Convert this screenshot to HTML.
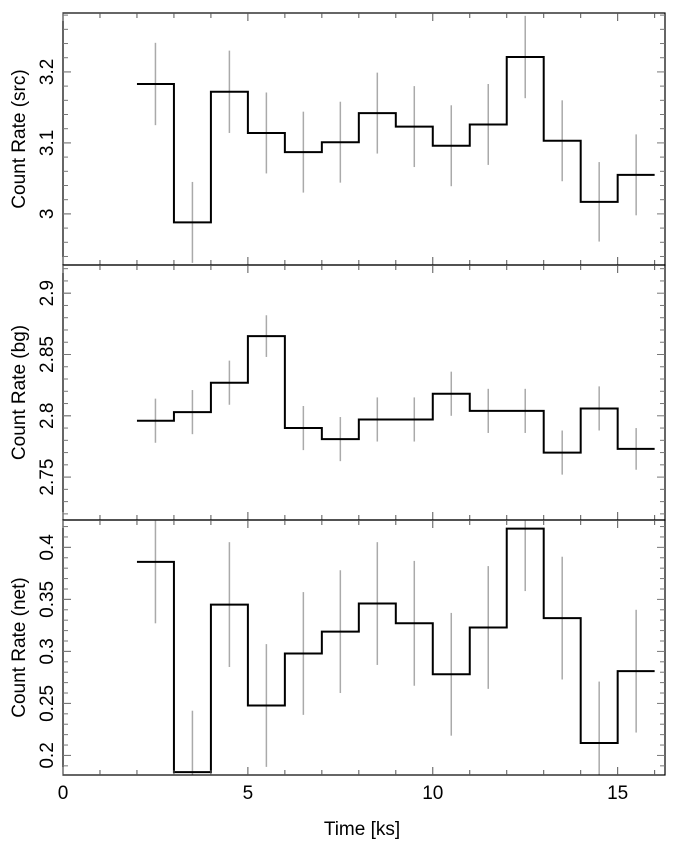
<!DOCTYPE html>
<html><head><meta charset="utf-8"><style>
html,body{margin:0;padding:0;background:#fff;width:676px;height:846px;overflow:hidden}
svg{display:block;font-family:"Liberation Sans",Arial,sans-serif}
</style></head><body>
<svg id="chart" width="676" height="846" viewBox="0 0 676 846" xmlns="http://www.w3.org/2000/svg"></svg>
<script>
const binStarts = [2,3,4,5,6,7,8,9,10,11,12,13,14,15];
const srcValues = [3.183,2.988,3.172,3.114,3.087,3.101,3.142,3.123,3.096,3.126,3.221,3.103,3.017,3.055];
const srcErrors = [0.058,0.057,0.058,0.057,0.057,0.057,0.057,0.057,0.057,0.057,0.058,0.057,0.056,0.057];
const bgValues = [2.796,2.803,2.827,2.865,2.790,2.781,2.797,2.797,2.818,2.804,2.804,2.770,2.806,2.773];
const bgErrors = [0.018,0.018,0.018,0.017,0.018,0.018,0.018,0.018,0.018,0.018,0.018,0.018,0.018,0.017];
const netValues = [0.386,0.184,0.345,0.248,0.298,0.319,0.346,0.327,0.278,0.323,0.418,0.332,0.212,0.281];
const netErrors = [0.059,0.059,0.060,0.059,0.059,0.059,0.059,0.060,0.059,0.059,0.060,0.059,0.059,0.059];
const xTickLabels = [0,5,10,15];
const srcTicks = [3,3.1,3.2];
const bgTicks = [2.75,2.8,2.85,2.9];
const netTicks = [0.2,0.25,0.3,0.35,0.4];

const NS="http://www.w3.org/2000/svg";
const svg=document.getElementById('chart');
const X0=63,X1=665,XMIN=0,XMAX=16.28;
const xs=v=>X0+(v-XMIN)/(XMAX-XMIN)*(X1-X0);
function mk(tag,attrs,parent){const e=document.createElementNS(NS,tag);for(const k in attrs)e.setAttribute(k,attrs[k]);(parent||svg).appendChild(e);return e;}

const panels=[
 {name:'src',top:13,bot:265,ymin:2.928,ymax:3.283,vals:srcValues,errs:srcErrors,ticks:srcTicks,minor:0.02,title:'Count Rate (src)'},
 {name:'bg',top:265,bot:520,ymin:2.715,ymax:2.923,vals:bgValues,errs:bgErrors,ticks:bgTicks,minor:0.01,title:'Count Rate (bg)'},
 {name:'net',top:520,bot:775,ymin:0.1812,ymax:0.4263,vals:netValues,errs:netErrors,ticks:netTicks,minor:0.01,title:'Count Rate (net)'}
];
panels.forEach((p,pi)=>{
 const ys=v=>p.bot-(v-p.ymin)/(p.ymax-p.ymin)*(p.bot-p.top);
 const g=mk('g',{});
 
 
 const cid='clip'+pi;
 const cp=mk('clipPath',{id:cid},g);mk('rect',{x:X0,y:p.top,width:X1-X0,height:p.bot-p.top},cp);
 const eg=mk('g',{'clip-path':'url(#'+cid+')'},g);
 
 
 binStarts.forEach((b,i)=>{
  const l=mk('line',{x1:xs(b+0.5),x2:xs(b+0.5),y1:ys(p.vals[i]-p.errs[i]),y2:ys(p.vals[i]+p.errs[i]),stroke:'#aaa','stroke-width':1.5},eg);
  
  
 });
 let d='';
 binStarts.forEach((b,i)=>{const y=ys(p.vals[i]);d+=(i?'L':'M')+xs(b)+','+y+'L'+xs(b+1)+','+y;});
 const path=mk('path',{d:d,fill:'none',stroke:'#000','stroke-width':2,'clip-path':'url(#'+cid+')'},g);
 
 
 const fr=mk('rect',{x:X0,y:p.top,width:X1-X0,height:p.bot-p.top,fill:'none',stroke:'#000','stroke-width':1.2},g);
 
 
 for(let t=0;t<=16;t++){
  const len=(t%5===0)?8:5,x=xs(t);
  mk('line',{x1:x,x2:x,y1:p.bot,y2:p.bot-len,stroke:'#555','stroke-width':1},g);
  mk('line',{x1:x,x2:x,y1:p.top,y2:p.top+len,stroke:'#555','stroke-width':1},g);
 }
 const start=Math.ceil(p.ymin/p.minor-1e-6);
 for(let k=start;k*p.minor<=p.ymax+1e-9;k++){
  const v=k*p.minor,y=ys(v);
  const isMaj=p.ticks.some(t=>Math.abs(t-v)<1e-6);
  const len=isMaj?8:5;
  mk('line',{x1:X0,x2:X0+len,y1:y,y2:y,stroke:'#777','stroke-width':1},g);
  mk('line',{x1:X1,x2:X1-len,y1:y,y2:y,stroke:'#777','stroke-width':1},g);
 }
 p.ticks.forEach(t=>{
  const y=ys(t);
  mk('line',{x1:X0,x2:X0+8,y1:y,y2:y,stroke:'#777','stroke-width':1},g);
  const tx=mk('text',{x:0,y:0,transform:'translate(53,'+y+') rotate(-90)','text-anchor':'middle','font-size':19,fill:'#000'},g);
  tx.textContent=String(t);
  
  
 });
 const ti=mk('text',{x:0,y:0,transform:'translate(25,'+((p.top+p.bot)/2)+') rotate(-90)','text-anchor':'middle','font-size':19,fill:'#000'},g);
 ti.textContent=p.title;
 
 
});
xTickLabels.forEach(t=>{
 const tx=mk('text',{x:xs(t),y:799,'text-anchor':'middle','font-size':19,fill:'#000'});
 tx.textContent=String(t);
 
 
});
const xt=mk('text',{x:362,y:835,'text-anchor':'middle','font-size':19,fill:'#000'});
xt.textContent='Time [ks]';


</script>
</body></html>
